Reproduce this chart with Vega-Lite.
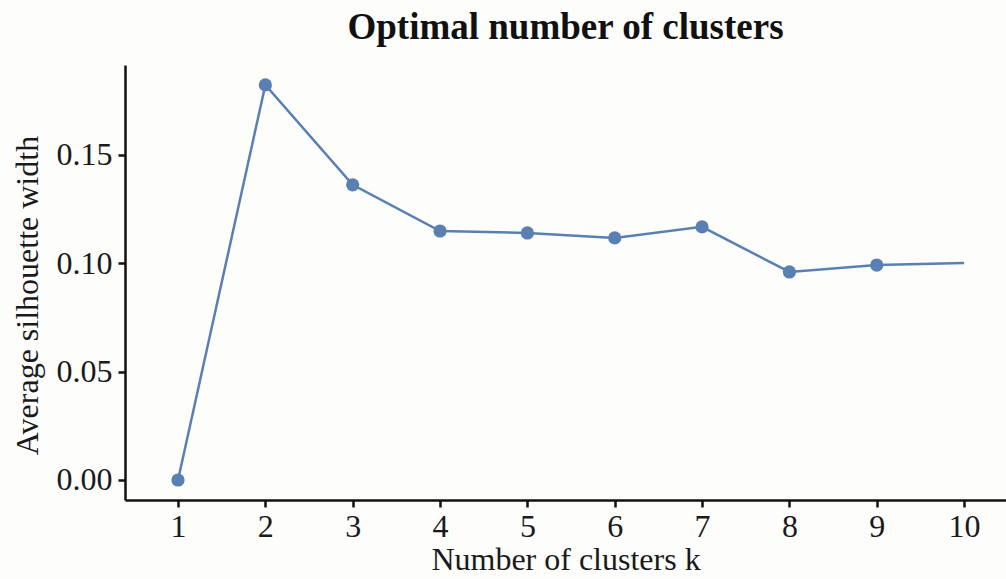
{
  "$schema": "https://vega.github.io/schema/vega-lite/v6.json",
  "autosize": "none",
  "width": 881,
  "height": 435,
  "padding": {"left": 125, "top": 65, "right": 0, "bottom": 79},
  "background": "#fdfdfc",
  "title": {
    "text": "Optimal number of clusters",
    "font": "Liberation Serif",
    "fontSize": 37,
    "fontWeight": "bold",
    "color": "#111111",
    "anchor": "middle",
    "offset": 18
  },
  "config": {
    "view": {"stroke": null},
    "axis": {
      "labelFont": "Liberation Serif",
      "titleFont": "Liberation Serif",
      "labelFontSize": 32,
      "titleFontSize": 32,
      "titleFontWeight": "normal",
      "labelColor": "#1a1a1a",
      "titleColor": "#1a1a1a",
      "domainColor": "#111111",
      "domainWidth": 2.5,
      "tickColor": "#111111",
      "tickWidth": 2.5,
      "tickSize": 7,
      "grid": false
    }
  },
  "data": {
    "values": [
      {"k": 1, "s": 0.0},
      {"k": 2, "s": 0.1823},
      {"k": 3, "s": 0.1362},
      {"k": 4, "s": 0.1149},
      {"k": 5, "s": 0.1140},
      {"k": 6, "s": 0.1117},
      {"k": 7, "s": 0.1168},
      {"k": 8, "s": 0.0960},
      {"k": 9, "s": 0.0992},
      {"k": 10, "s": 0.1001}
    ]
  },
  "encoding": {
    "x": {
      "field": "k",
      "type": "quantitative",
      "scale": {"domain": [0.393, 10.48], "nice": false, "zero": false},
      "axis": {"values": [1,2,3,4,5,6,7,8,9,10], "title": "Number of clusters k", "labelPadding": 4, "titlePadding": 2, "labelFlush": false}
    },
    "y": {
      "field": "s",
      "type": "quantitative",
      "scale": {"domain": [-0.00923, 0.1915], "nice": false, "zero": false},
      "axis": {"values": [0, 0.05, 0.1, 0.15], "format": ".2f", "title": "Average silhouette width", "labelPadding": 6, "titlePadding": 12, "titleY": 230, "labelFlush": false}
    }
  },
  "layer": [
    {"mark": {"type": "line", "color": "#5a7fb3", "strokeWidth": 2.5}},
    {"transform": [{"filter": "datum.k < 10"}], "mark": {"type": "circle", "color": "#5a7fb3", "size": 175, "opacity": 1}}
  ]
}
